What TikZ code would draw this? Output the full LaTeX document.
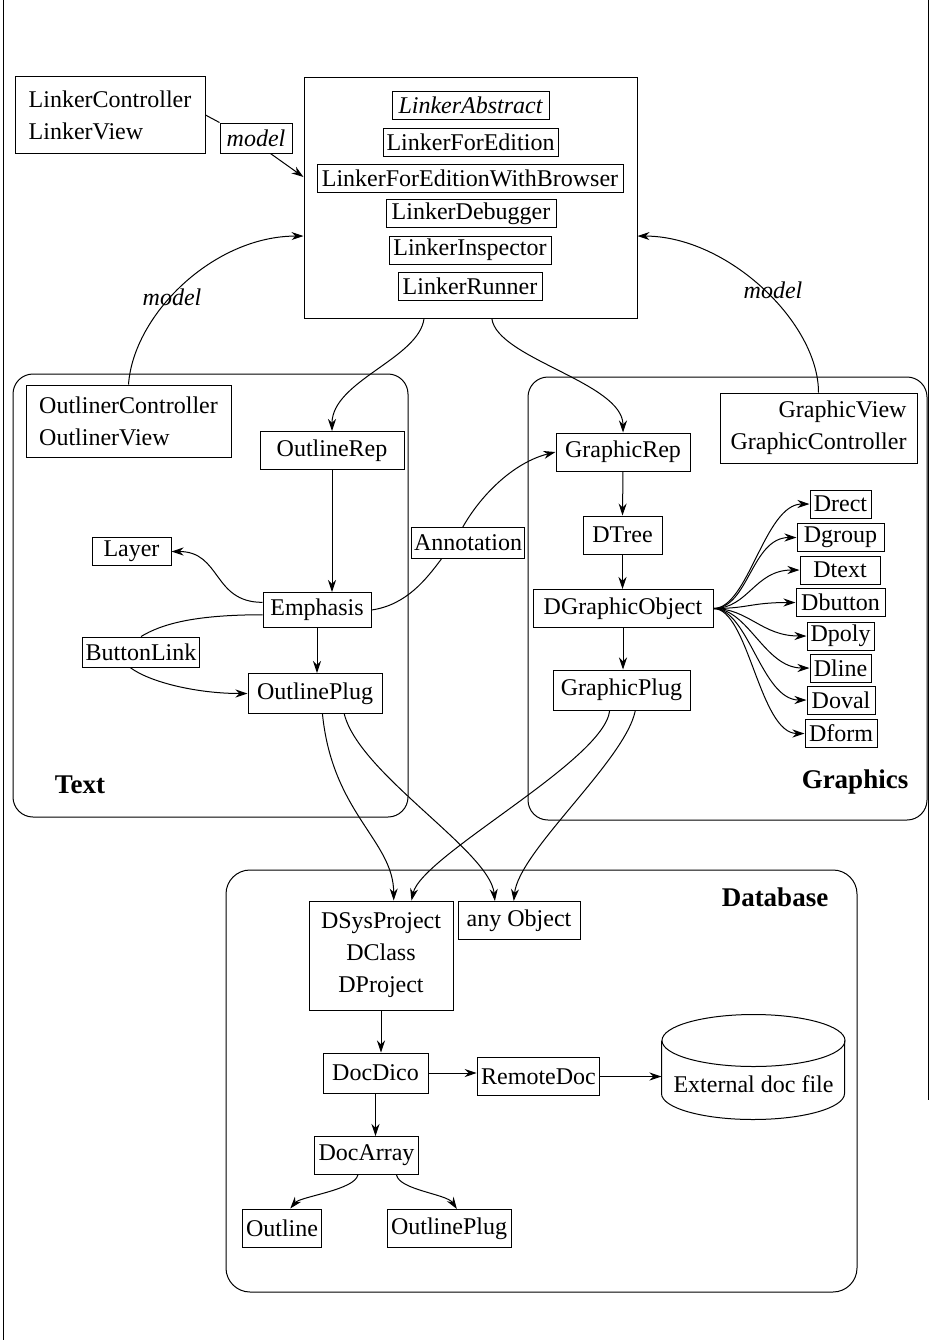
\documentclass[tikz,border=0pt]{standalone}
\usepackage{fontspec}
\setmainfont{Liberation Serif}
\usetikzlibrary{arrows.meta}

\begin{document}
\begin{tikzpicture}[x=0.5pt, y=-0.5pt, line width=0.5pt,
    font=\fontsize{12}{16}\selectfont,
    box/.style={draw, inner sep=2pt, minimum height=19pt},
    sbox/.style={draw, inner sep=1.5pt, minimum height=14pt},
    wd/.style={minimum width=#1*0.5pt},
    grp/.style={draw, rounded corners=10pt},
    ttl/.style={font=\fontsize{13.5}{16}\selectfont\bfseries},
    mdl/.style={font=\fontsize{12}{16}\selectfont\itshape},
    arr/.style={-{Stealth[length=6pt,width=4pt]}}]
  \useasboundingbox (0,0) rectangle (930,1340);
  % page frame
  \draw (3,0) -- (3,1340);
  \draw (928,0) -- (928,1100);

  % Linker
  \node[box, wd=190, minimum height=38.5pt, align=left] (lc) at (110,115) {LinkerController\\LinkerView};
  \node[draw, wd=333, minimum height=120.5pt] (lnk) at (470.5,197.5) {};
  \node[sbox, wd=157, font=\fontsize{12}{16}\selectfont\itshape] (labs) at (470.5,105) {LinkerAbstract};
  \node[sbox, wd=175] (lfe) at (470.5,142) {LinkerForEdition};
  \node[sbox, wd=306] (lfewb) at (470,178) {LinkerForEditionWithBrowser};
  \node[sbox, wd=170] (ldbg) at (471,213.5) {LinkerDebugger};
  \node[sbox, wd=162] (lins) at (470,250) {LinkerInspector};
  \node[sbox, wd=144] (lrun) at (470,286.5) {LinkerRunner};
  \node[sbox, mdl, wd=72, minimum height=15pt] (mdla) at (256,138) {model};
  \draw (lc.east) -- (mdla.north west);
  \draw[arr] (mdla.313) -- (lnk.173);

  % Text
  \draw[grp] (13,374) rectangle (408,817);
  \node[ttl] (ttext) at (80,785) {Text};
  \node[box, wd=205, minimum height=36pt, align=left] (oc) at (128.5,421) {OutlinerController\\OutlinerView};
  \node[box, wd=144] (orep) at (332,450.5) {OutlineRep};
  \node[sbox, wd=79] (layer) at (131.5,551.5) {Layer};
  \node[box, wd=108, minimum height=17.5pt] (emph) at (317,610) {Emphasis};
  \node[sbox, wd=116, minimum height=15pt] (blink) at (141,652) {ButtonLink};
  \node[box, wd=134, minimum height=20pt] (oplug) at (315,693.5) {OutlinePlug};
  \node[sbox, wd=104, minimum height=15.5pt] (annot) at (468,543) {Annotation};

  % Graphics
  \draw[grp] (528,377) rectangle (927,820);
  \node[ttl] (tgraph) at (855,782) {Graphics};
  \node[box, wd=197, minimum height=35pt, align=right] (gv) at (818.5,428) {GraphicView\\GraphicController};
  \node[box, wd=134] (grep) at (623,452) {GraphicRep};
  \node[box, wd=79] (dtree) at (622.5,535) {DTree};
  \node[box, wd=180] (dgo) at (623,608.5) {DGraphicObject};
  \node[box, wd=137, minimum height=20pt] (gplug) at (621.5,690) {GraphicPlug};
  \node[sbox, wd=61] (drect) at (840.5,504) {Drect};
  \node[sbox, wd=87] (dgroup) at (840.5,537.5) {Dgroup};
  \node[sbox, wd=80] (dtext) at (840,570) {Dtext};
  \node[sbox, wd=89] (dbutton) at (840.5,602.5) {Dbutton};
  \node[sbox, wd=67] (dpoly) at (840.5,636) {Dpoly};
  \node[sbox, wd=61] (dline) at (840.5,668) {Dline};
  \node[sbox, wd=68] (doval) at (841,700) {Doval};
  \node[sbox, wd=72] (dform) at (841,733.5) {Dform};

  % Database
  \draw[grp, rounded corners=12pt] (226,870) rectangle (857,1292);
  \node[ttl] (tdb) at (775,897) {Database};
  \node[box, wd=144, minimum height=54.5pt, align=center] (dsys) at (381,955.5) {DSysProject\\DClass\\DProject};
  \node[box, wd=122] (anyobj) at (519,920.5) {any Object};
  \node[box, wd=105, minimum height=20pt] (docdico) at (375.5,1073) {DocDico};
  \node[box, wd=121] (rdoc) at (538.5,1076.5) {RemoteDoc};
  \node[box, wd=103] (docarr) at (366.5,1155.5) {DocArray};
  \node[box, wd=76] (outl) at (282,1228) {Outline};
  \node[box, wd=124] (oplugb) at (449,1228.5) {OutlinePlug};
  % doc file drum
  \node[wd=183, minimum height=52.5pt] (ext) at (753.5,1067.5)
    {\raisebox{-12.5pt}[0pt][0pt]{External doc file}};
  \draw (ext.north) ++(0,26) ellipse [x radius=91.5, y radius=26];
  \draw (ext.north west) ++(0,26) -- ++(0,53)
    arc [start angle=180, end angle=0, x radius=91.5, y radius=26] -- ++(0,-53);

  % model links
  \draw[arr] (oc.north) .. controls +(5,-70) and +(-90,0) .. (lnk.193);
  \node[mdl] (mdlb) at (172,297) {model};
  \draw[arr] (gv.north) .. controls +(0,-70) and +(90,0) .. (lnk.347);
  \node[mdl] (mdlc) at (773,290) {model};

  % linker to the reps
  \draw[arr] (lnk.249) .. controls +(-5,40) and +(0,-50) .. (orep.north);
  \draw[arr] (lnk.280) .. controls +(5,40) and +(0,-50) .. (grep.north);

  % text links
  \draw[arr] (orep.south) -- (orep.south |- emph.north);
  \draw[arr] (emph.south) -- (emph.south |- oplug.north);
  \draw[arr] (emph.172) .. controls +(-50,0) and +(50,0) .. (layer.east);
  \draw (emph.185) .. controls +(-70,0) and +(20,-12) .. (blink.north);
  \draw[arr] (blink.235) .. controls +(20,15) and +(-50,0) .. (oplug.west);
  \draw (emph.east) .. controls +(35,-5) and +(-15,20) .. (annot.211);
  \draw[arr] (annot.108) .. controls +(20,-35) and +(-40,10) .. (grep.west);

  % graphics links
  \draw[arr] (grep.south) -- (dtree.north);
  \draw[arr] (dtree.south) -- (dtree.south |- dgo.north);
  \draw[arr] (dgo.south) -- (dgo.south |- gplug.north);
  \foreach \d in {drect,dgroup,dtext,dbutton,dpoly,dline,doval,dform}
    \draw[arr] (dgo.east) .. controls +(35,0) and +(-45,0) .. (\d.west);

  % plugs to database
  \draw[arr] (oplug.290) .. controls +(10,100) and +(0,-60) .. (dsys.77);
  \draw[arr] (oplug.325) .. controls +(15,60) and +(-5,-50) .. (anyobj.141);
  \draw[arr] (gplug.240) .. controls +(-5,50) and +(10,-45) .. (dsys.61);
  \draw[arr] (gplug.304) .. controls +(-10,50) and +(5,-50) .. (anyobj.105);

  % database links
  \draw[arr] (dsys.south) -- (dsys.south |- docdico.north);
  \draw[arr] (docdico.east) -- (docdico.east -| rdoc.west);
  \draw[arr] (rdoc.east) -- (rdoc.east -| ext.west);
  \draw[arr] (docdico.south) -- (docdico.south |- docarr.north);
  \draw[arr] (docarr.246) .. controls +(-3,15) and +(10,-12) .. (outl.67);
  \draw[arr] (docarr.327) .. controls +(3,15) and +(-10,-15) .. (oplugb.68);
\end{tikzpicture}
\end{document}
